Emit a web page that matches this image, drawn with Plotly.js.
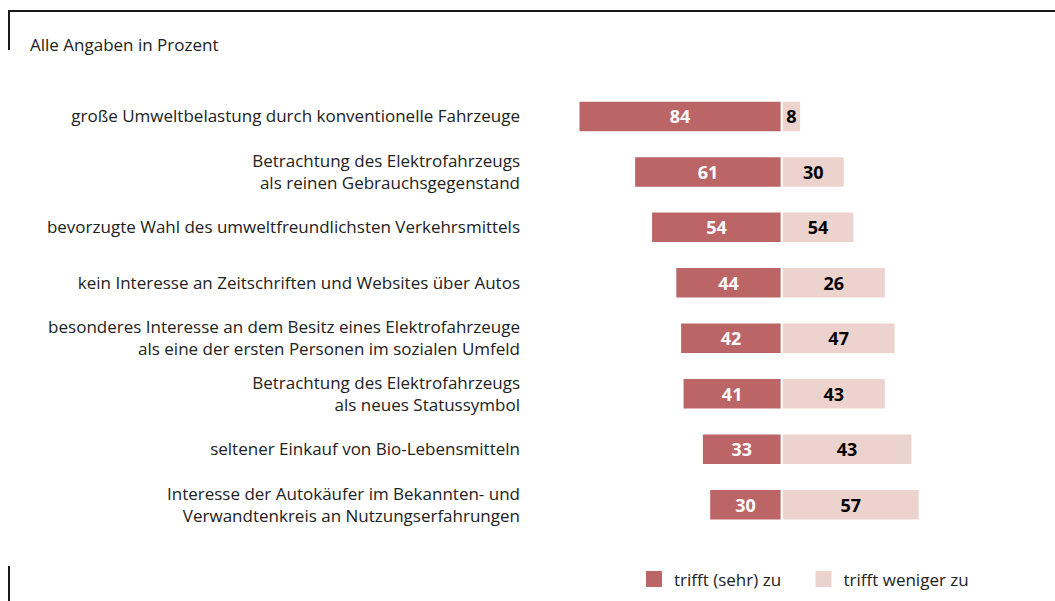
<!DOCTYPE html>
<html>
<head>
<meta charset="utf-8">
<script src="https://cdn.plot.ly/plotly-3.0.1.min.js"></script>
<style>html,body{margin:0;padding:0;background:#fff;}#chart{width:1055px;height:601px;}</style>
</head>
<body>
<div id="chart"></div>
<script>
// ---- data ----
var categories = [
  "große Umweltbelastung durch konventionelle Fahrzeuge",
  "Betrachtung des Elektrofahrzeugs<br>als reinen Gebrauchsgegenstand",
  "bevorzugte Wahl des umweltfreundlichsten Verkehrsmittels",
  "kein Interesse an Zeitschriften und Websites über Autos",
  "besonderes Interesse an dem Besitz eines Elektrofahrzeuge<br>als eine der ersten Personen im sozialen Umfeld",
  "Betrachtung des Elektrofahrzeugs<br>als neues Statussymbol",
  "seltener Einkauf von Bio-Lebensmitteln",
  "Interesse der Autokäufer im Bekannten- und<br>Verwandtenkreis an Nutzungserfahrungen"
];
var agreeValues = [84, 61, 54, 44, 42, 41, 33, 30];          // "trifft (sehr) zu"
var lessLabels  = [8, 30, 54, 26, 47, 43, 43, 57];           // "trifft weniger zu" as printed
var lessBarLengths = [8, 26, 30, 43, 47, 43, 54, 57];        // bar lengths as drawn in the reference
var seriesNames = ["trifft (sehr) zu", "trifft weniger zu"];
var titleText = "Alle Angaben in Prozent";

var W = 1055, H = 601;
var colDark = "#bb6566", colLight = "#edd3cd";
var FONT = "Open Sans";

var traces = [
  {
    type: "bar", orientation: "h", name: seriesNames[0],
    y: categories, x: agreeValues.map(function (v) { return -v; }),
    text: agreeValues.map(String), textposition: "inside", insidetextanchor: "middle",
    textfont: {family: FONT, size: 18, color: "#ffffff", weight: "bold"},
    marker: {color: colDark, line: {color: "#ffffff", width: 2}},
    showlegend: false, hoverinfo: "skip", cliponaxis: false
  },
  {
    type: "bar", orientation: "h", name: seriesNames[1],
    y: categories, x: lessBarLengths,
    text: lessLabels.map(String), textposition: "inside", insidetextanchor: "middle",
    textfont: {family: FONT, size: 18, color: "#000000", weight: "bold"},
    marker: {color: colLight, line: {color: "#ffffff", width: 2}},
    showlegend: false, hoverinfo: "skip", cliponaxis: false
  },
  {
    type: "scatter", mode: "markers", name: seriesNames[0], x: [null], y: [null],
    marker: {symbol: "square", size: 16, color: colDark}, showlegend: true, hoverinfo: "skip"
  },
  {
    type: "scatter", mode: "markers", name: seriesNames[1], x: [null], y: [null],
    marker: {symbol: "square", size: 16, color: colLight}, showlegend: true, hoverinfo: "skip"
  }
];

var lineCol = "#1a1a1a";
var layout = {
  width: W, height: H,
  margin: {l: 0, r: 0, t: 0, b: 0, autoexpand: false},
  paper_bgcolor: "#ffffff", plot_bgcolor: "#ffffff",
  font: {family: FONT, size: 17, color: "#222222"},
  barmode: "relative", bargap: 0.432,
  title: {text: titleText, x: 30 / W, xanchor: "left", xref: "paper",
          y: 1 - 45 / H, yanchor: "middle", yref: "paper",
          font: {family: FONT, size: 17, color: "#222222"}},
  xaxis: {domain: [525 / W, 1], range: [-106.1, 112.9], visible: false, fixedrange: true},
  yaxis: {domain: [(H - 532.4) / H, (H - 88.7) / H], type: "category",
          range: [categories.length - 0.5, -0.5], showgrid: false, zeroline: false,
          showline: false, ticks: "", automargin: false, ticklabelstandoff: 4,
          tickfont: {family: FONT, size: 17, color: "#222222"}},
  legend: {orientation: "h", xref: "paper", yref: "paper",
           x: 634 / W, xanchor: "left", y: 1 - 579.5 / H, yanchor: "middle",
           font: {family: FONT, size: 17, color: "#222222"},
           itemsizing: "trace", entrywidth: 124.5, bgcolor: "rgba(0,0,0,0)"},
  shapes: [
    {type: "line", xref: "paper", yref: "paper", x0: 9 / W, x1: 1, y0: 1 - 11 / H, y1: 1 - 11 / H, line: {color: lineCol, width: 2}},
    {type: "line", xref: "paper", yref: "paper", x0: 9 / W, x1: 9 / W, y0: 1 - 10 / H, y1: 1 - 50 / H, line: {color: lineCol, width: 2}},
    {type: "line", xref: "paper", yref: "paper", x0: 9 / W, x1: 9 / W, y0: 1 - 566 / H, y1: 0, line: {color: lineCol, width: 2}}
  ]
};

Plotly.newPlot("chart", traces, layout, {displayModeBar: false, staticPlot: true});
</script>
</body>
</html>
